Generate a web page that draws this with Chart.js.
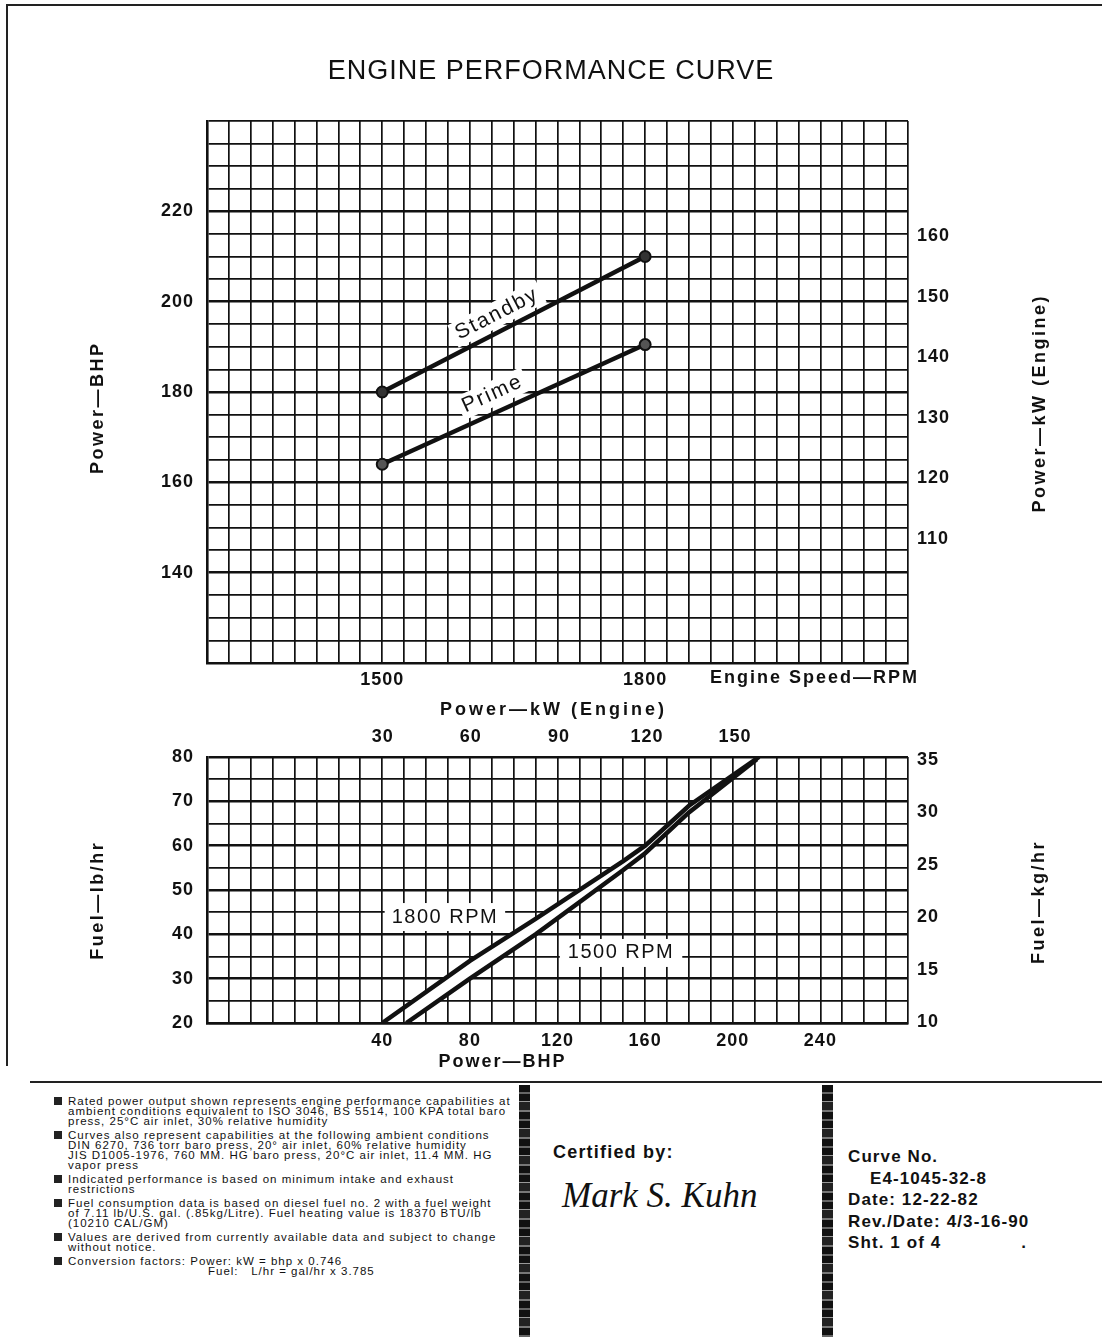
<!DOCTYPE html>
<html><head><meta charset="utf-8">
<script src="https://cdn.jsdelivr.net/npm/chart.js@4.4.0/dist/chart.umd.min.js"></script>
<style>
html,body{margin:0;padding:0;background:#fff;}
body{width:1102px;height:1337px;position:relative;overflow:hidden;font-family:"Liberation Sans",Arial,sans-serif;color:#111;}
#c1{position:absolute;left:0;top:0;}
#c2{position:absolute;left:0;top:690px;}
.ln{position:absolute;background:#222;}
.notes{position:absolute;left:54px;top:1096px;font-size:11.5px;line-height:10px;letter-spacing:1px;}
.note{position:relative;padding-left:14px;margin-bottom:4px;white-space:nowrap;}
.note:before{content:"";position:absolute;left:0;top:1px;width:8px;height:8px;background:#222;}
.strip{position:absolute;top:1085px;width:11px;height:252px;background:repeating-linear-gradient(180deg,#111 0 7px,#666 7px 9px,#111 9px 16px,#999 16px 17px,#222 17px 25px,#777 25px 27px);}
.cert{position:absolute;left:553px;top:1142px;font-size:18px;font-weight:bold;letter-spacing:1.2px;}
.sig{position:absolute;left:562px;top:1176px;font-family:"Liberation Serif",serif;font-style:italic;font-size:35px;}
.curve{position:absolute;left:848px;top:1146px;font-size:17px;font-weight:bold;letter-spacing:1.1px;line-height:21.5px;white-space:nowrap;}
</style></head>
<body>
<div class="ln" style="left:8px;top:4px;width:1094px;height:2px;"></div>
<div class="ln" style="left:6px;top:4px;width:2px;height:1062px;"></div>
<div class="ln" style="left:30px;top:1081px;width:1072px;height:2px;"></div>
<canvas id="c1" width="1102" height="700"></canvas>
<canvas id="c2" width="1102" height="390"></canvas>

<div class="notes">
<div class="note">Rated power output shown represents engine performance capabilities at<br>ambient conditions equivalent to ISO 3046, BS 5514, 100 KPA total baro<br>press, 25°C air inlet, 30% relative humidity</div>
<div class="note">Curves also represent capabilities at the following ambient conditions<br>DIN 6270, 736 torr baro press, 20° air inlet, 60% relative humidity<br>JIS D1005-1976, 760 MM. HG baro press, 20°C air inlet, 11.4 MM. HG<br>vapor press</div>
<div class="note">Indicated performance is based on minimum intake and exhaust<br>restrictions</div>
<div class="note">Fuel consumption data is based on diesel fuel no. 2 with a fuel weight<br>of 7.11 lb/U.S. gal. (.85kg/Litre). Fuel heating value is 18370 BTU/lb<br>(10210 CAL/GM)</div>
<div class="note">Values are derived from currently available data and subject to change<br>without notice.</div>
<div class="note">Conversion factors: Power: kW = bhp x 0.746<br><span style="padding-left:140px">Fuel: &nbsp;&nbsp;L/hr = gal/hr x 3.785</span></div>
</div>
<div class="strip" style="left:519px;"></div>
<div class="strip" style="left:822px;"></div>
<div class="cert">Certified by:</div>
<div class="sig">Mark S. Kuhn</div>
<div class="curve">Curve No.<br><span style="padding-left:22px">E4-1045-32-8</span><br>Date: 12-22-82<br>Rev./Date: 4/3-16-90<br>Sht. 1 of 4<span style="padding-left:80px">.</span></div>

<script>
// ---------- Top chart data: Power vs Engine speed ----------
const rpm = [1500, 1800];
const standbyBHP = [180, 210];
const primeBHP = [164, 190.5];
const bhpTickLabels = [140, 160, 180, 200, 220];
const kwTickLabelsTop = [110, 120, 130, 140, 150, 160];
const rpmTickLabels = [1500, 1800];

// ---------- Bottom chart data: Fuel vs Power ----------
const fuelBHP1800 = [40, 80, 110, 150, 160, 180, 212];
const fuelLb1800  = [20, 34, 43.5, 56.5, 60, 69, 80];
const fuelBHP1500 = [51, 80, 110, 150, 160, 180, 211];
const fuelLb1500  = [20, 30, 40, 54.5, 58.3, 67.5, 79.5];
const powerBhpTickLabels = [40, 80, 120, 160, 200, 240];
const powerKwTickLabels = [30, 60, 90, 120, 150];
const fuelLbTickLabels = [20, 30, 40, 50, 60, 70, 80];
const fuelKgTickLabels = [10, 15, 20, 25, 30, 35];

const FONT = '"Liberation Sans", Arial, sans-serif';
Chart.defaults.font.family = FONT;
Chart.defaults.color = '#111';
const INK = '#111';

// text labels: positions either in data units (xv/yv) or relative to chart area edges (xr/yr)
const curveLabels = {
  id: 'curveLabels',
  beforeDraw(chart) { chart.ctx.letterSpacing = '1px'; },
  afterDatasetsDraw(chart, args, opts) {
    const {ctx, chartArea} = chart;
    const ref = (e) => e === 'zero' ? 0 : e === 'w' ? chart.width : e === 'mid' ? (chartArea.left + chartArea.right) / 2 : chartArea[e];
    (opts.items || []).forEach(it => {
      const xs = chart.scales[it.xAxis || 'x'], ys = chart.scales[it.yAxis || 'y'];
      const px = it.xv !== undefined ? xs.getPixelForValue(it.xv) : ref(it.xr[0]) + it.xr[1];
      const py = it.yv !== undefined ? ys.getPixelForValue(it.yv) : ref(it.yr[0]) + it.yr[1];
      let ang = it.rot || 0;
      if (it.along !== undefined) {
        const pts = chart.getDatasetMeta(it.along).data;
        const a = pts[0], b = pts[pts.length - 1];
        ang = Math.atan2(b.y - a.y, b.x - a.x);
      }
      ctx.save();
      ctx.translate(px, py); ctx.rotate(ang);
      ctx.font = it.font;
      ctx.letterSpacing = (it.ls || 0) + 'px';
      const w = ctx.measureText(it.text).width;
      const align = it.align || 'center';
      if (it.box) {
        const x0 = align === 'right' ? -w : -w / 2;
        ctx.fillStyle = '#fff'; ctx.fillRect(x0 - it.box, -it.h / 2, w + 2 * it.box, it.h);
      }
      ctx.fillStyle = INK; ctx.textAlign = align; ctx.textBaseline = 'middle';
      ctx.fillText(it.text, 0, 0);
      ctx.restore();
    });
  }
};

const tickFont = {size: 18, weight: 'bold'};
const TITLE = 'bold 18px ' + FONT;
const gridW = (labels) => (c) => (c.tick && labels.includes(c.tick.value)) ? 2.6 : 1.7;

// ---------------- TOP CHART ----------------
new Chart(document.getElementById('c1'), {
  type: 'line',
  data: {
    datasets: [
      {label: 'Standby', data: rpm.map((x, i) => ({x, y: standbyBHP[i]})), borderColor: INK, borderWidth: 4.5,
       pointRadius: 5.5, pointBackgroundColor: '#333', pointBorderColor: INK, pointBorderWidth: 2},
      {label: 'Prime', data: rpm.map((x, i) => ({x, y: primeBHP[i]})), borderColor: INK, borderWidth: 4.5,
       pointRadius: 5.5, pointBackgroundColor: '#555', pointBorderColor: INK, pointBorderWidth: 2}
    ]
  },
  options: {
    responsive: false, animation: false,
    layout: {padding: 0},
    plugins: {
      legend: {display: false}, tooltip: {enabled: false},
      title: {display: true, text: 'ENGINE PERFORMANCE CURVE', color: INK,
              font: {size: 27, weight: 'normal'}, padding: {top: 55.8, bottom: 32.8}},
      curveLabels: {items: [
        {text: 'Standby', xv: 1631, yv: 197.3, along: 0, font: '21px ' + FONT, ls: 2, box: 4, h: 25},
        {text: 'Prime', xv: 1626, yv: 179.6, along: 1, font: '21px ' + FONT, ls: 2, box: 4, h: 25},
        {text: 'Engine Speed—RPM', xr: ['right', 11], yr: ['bottom', 15], align: 'right', font: TITLE, ls: 2},
        {text: 'Power—BHP', xr: ['zero', 98], yv: 176.5, rot: -Math.PI / 2, font: TITLE, ls: 2.5},
        {text: 'Power—kW (Engine)', xr: ['w', -62], yv: 177.5, rot: -Math.PI / 2, font: TITLE, ls: 2.5}
      ]}
    },
    scales: {
      x: {type: 'linear', position: 'bottom', min: 1300, max: 2100,
          afterFit: s => { s.height = 37; },
          ticks: {stepSize: 25, autoSkip: false, maxRotation: 0, padding: 6, font: tickFont,
                  callback: v => rpmTickLabels.includes(v) ? String(v) : ''},
          grid: {color: INK, lineWidth: 1.7, drawTicks: false},
          border: {display: true, color: INK, width: 2.6}},
      y: {type: 'linear', position: 'left', min: 120, max: 240,
          afterFit: s => { s.width = 207; },
          ticks: {stepSize: 5, autoSkip: false, padding: 13, font: tickFont,
                  callback: v => bhpTickLabels.includes(v) ? String(v) : ''},
          grid: {color: INK, lineWidth: gridW(bhpTickLabels), drawTicks: false},
          border: {display: true, color: INK, width: 2.6}},
      y2: {type: 'linear', position: 'right', min: 120 * 0.746, max: 240 * 0.746,
           afterFit: s => { s.width = 194; },
           afterBuildTicks: s => { s.ticks = kwTickLabelsTop.map(v => ({value: v})); },
           ticks: {padding: 9, font: tickFont},
           grid: {display: false, drawTicks: false},
           border: {display: false}}
    }
  },
  plugins: [curveLabels]
});

// ---------------- BOTTOM CHART ----------------
new Chart(document.getElementById('c2'), {
  type: 'line',
  data: {
    datasets: [
      {label: '1800 RPM', data: fuelBHP1800.map((x, i) => ({x, y: fuelLb1800[i]})), borderColor: INK,
       borderWidth: 4.5, pointRadius: 0, fill: false},
      {label: '1500 RPM', data: fuelBHP1500.map((x, i) => ({x, y: fuelLb1500[i]})), borderColor: INK,
       borderWidth: 4.5, pointRadius: 0, fill: '-1', backgroundColor: '#fff'}
    ]
  },
  options: {
    responsive: false, animation: false,
    layout: {padding: 0},
    plugins: {
      legend: {display: false}, tooltip: {enabled: false},
      filler: {drawTime: 'beforeDatasetsDraw'},
      curveLabels: {items: [
        {text: '1800 RPM', xv: 68.6, yv: 43.9, font: '20px ' + FONT, ls: 1.5, box: 7, h: 28},
        {text: '1500 RPM', xv: 149, yv: 35.8, font: '20px ' + FONT, ls: 1.5, box: 8, h: 28},
        {text: 'Power—BHP', xr: ['mid', -55], yr: ['bottom', 39], font: TITLE, ls: 2},
        {text: 'Power—kW (Engine)', xr: ['mid', -4], yr: ['top', -47], font: TITLE, ls: 3},
        {text: 'Fuel—lb/hr', xr: ['zero', 98], yv: 47.7, rot: -Math.PI / 2, font: TITLE, ls: 2.5},
        {text: 'Fuel—kg/hr', xr: ['w', -63], yv: 47.3, rot: -Math.PI / 2, font: TITLE, ls: 2.5}
      ]}
    },
    scales: {
      x: {type: 'linear', position: 'bottom', min: -40, max: 280,
          afterFit: s => { s.height = 57; },
          ticks: {stepSize: 10, autoSkip: false, maxRotation: 0, padding: 7, font: tickFont,
                  callback: v => powerBhpTickLabels.includes(v) ? String(v) : ''},
          grid: {color: INK, lineWidth: 1.7, drawTicks: false},
          border: {display: true, color: INK, width: 2.6}},
      x2: {type: 'linear', position: 'top', min: -40 * 0.746, max: 280 * 0.746,
           afterFit: s => { s.height = 67; },
           afterBuildTicks: s => { s.ticks = powerKwTickLabels.map(v => ({value: v})); },
           ticks: {padding: 9, maxRotation: 0, font: tickFont},
           grid: {display: false, drawTicks: false},
           border: {display: false}},
      y: {type: 'linear', position: 'left', min: 20, max: 80,
          afterFit: s => { s.width = 207; },
          ticks: {stepSize: 5, autoSkip: false, padding: 13, font: tickFont,
                  callback: v => fuelLbTickLabels.includes(v) ? String(v) : ''},
          grid: {color: INK, lineWidth: gridW(fuelLbTickLabels), drawTicks: false},
          border: {display: true, color: INK, width: 2.6}},
      y2: {type: 'linear', position: 'right', min: 9.9, max: 35.3,
           afterFit: s => { s.width = 194; },
           afterBuildTicks: s => { s.ticks = fuelKgTickLabels.map(v => ({value: v})); },
           ticks: {padding: 9, font: tickFont},
           grid: {display: false, drawTicks: false},
           border: {display: false}}
    }
  },
  plugins: [curveLabels]
});
</script>
</body></html>
